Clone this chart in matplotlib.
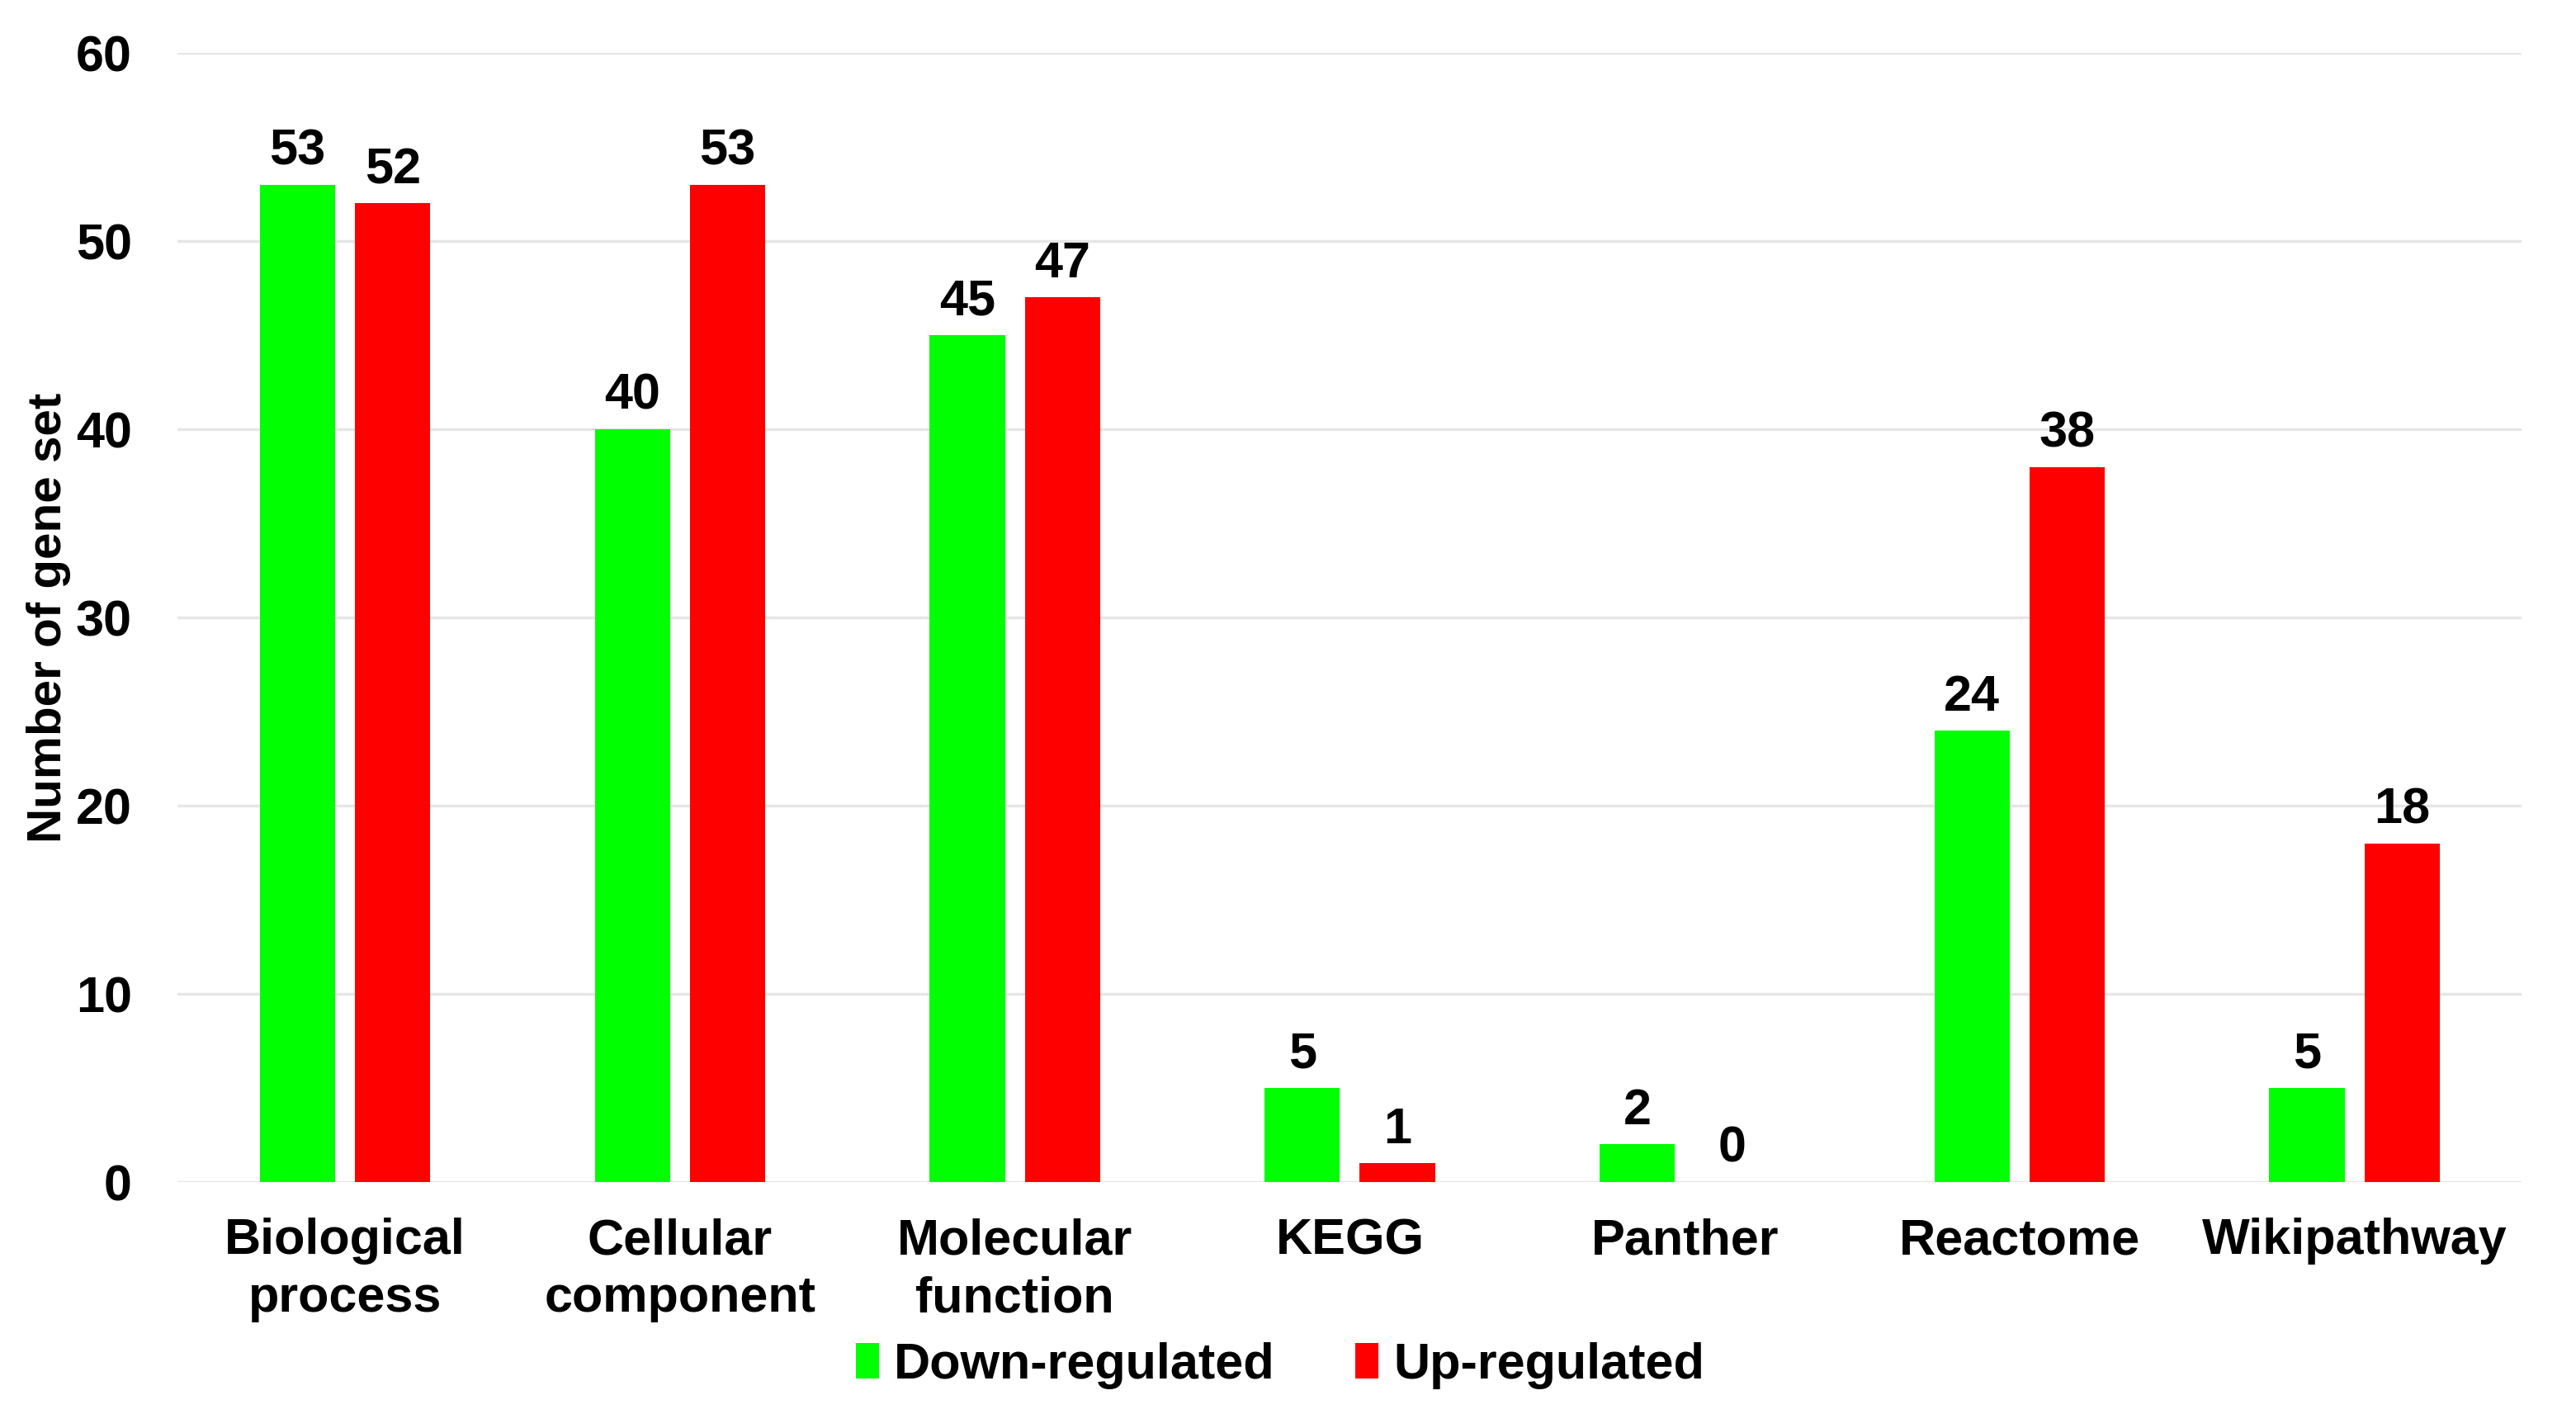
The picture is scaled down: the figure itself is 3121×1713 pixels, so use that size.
import numpy as np
import matplotlib
matplotlib.use("Agg")
import matplotlib.pyplot as plt
from matplotlib import font_manager

names = {f.name for f in font_manager.fontManager.ttflist}
fam = "Liberation Sans Narrow" if "Liberation Sans Narrow" in names else "Liberation Sans"
plt.rcParams['font.family'] = [fam, 'DejaVu Sans']
plt.rcParams['font.weight'] = 'bold'

categories = ["Biological\nprocess", "Cellular\ncomponent", "Molecular\nfunction",
              "KEGG", "Panther", "Reactome", "Wikipathway"]
down_regulated = [53, 40, 45, 5, 2, 24, 5]
up_regulated = [52, 53, 47, 1, 0, 38, 18]
yticks = [0, 10, 20, 30, 40, 50, 60]

fig = plt.figure(figsize=(31.21, 17.13), dpi=100)
ax = fig.add_axes([0.069, 0.164, 0.910, 0.7986])

x = np.arange(len(categories))
w = 0.225
off = 0.142
b1 = ax.bar(x - off, down_regulated, w, color="#00ff00", label="Down-regulated", zorder=3)
b2 = ax.bar(x + off, up_regulated, w, color="#ff0000", label="Up-regulated", zorder=3)

# value labels above bars
for bars in (b1, b2):
    for rect in bars:
        h = rect.get_height()
        ax.annotate(str(int(h)), (rect.get_x() + rect.get_width() / 2, h),
                    xytext=(0, 8), textcoords="offset points",
                    ha="center", va="bottom", fontsize=44, fontweight="bold")

ax.set_xlim(-0.5, len(categories) - 0.5)
ax.set_ylim(0, 60)
ax.set_yticks(yticks)
ax.set_xticks(x)
ax.set_xticklabels(categories, fontsize=44, fontweight="bold", linespacing=1.3)
ax.tick_params(axis="both", length=0, labelsize=44)
ax.tick_params(axis="x", pad=31)
ax.tick_params(axis="y", pad=40)
for lab in ax.get_yticklabels():
    lab.set_fontweight("bold")

ax.yaxis.grid(True, color="#e6e6e6", linewidth=2.5, zorder=0)
for s in ax.spines.values():
    s.set_visible(False)

ax.set_ylabel("Number of gene set", fontsize=42, fontweight="bold", labelpad=4)

fig.legend(handles=[b1, b2], loc="center", bbox_to_anchor=(0.497, 0.034), ncol=2,
           frameon=False, fontsize=44, handlelength=0.45, handleheight=0.7,
           handletextpad=0.3, columnspacing=1.6)

fig.savefig("out.png", dpi=100)
